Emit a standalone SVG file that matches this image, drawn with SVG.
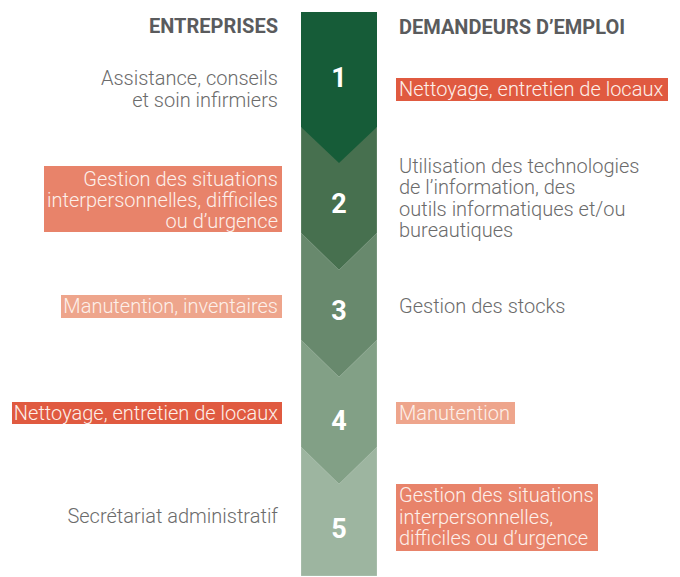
<svg xmlns="http://www.w3.org/2000/svg" width="680" height="577" viewBox="0 0 680 577">
<style>
.hd{font-family:Roboto,"Liberation Sans",sans-serif;font-weight:700;font-size:20px;fill:#5a5b5d}
.t{font-family:Roboto,"Liberation Sans",sans-serif;font-weight:300;font-size:20px;fill:#6b6b6b}
.w{font-family:Roboto,"Liberation Sans",sans-serif;font-weight:300;font-size:20px;fill:#fdf0ea}
.n{font-family:Roboto,"Liberation Sans",sans-serif;font-weight:700;font-size:27px;fill:#ffffff;text-anchor:middle}
.r{text-anchor:end}
.seg{stroke:#ffffff;stroke-opacity:0.25;stroke-width:0.8}
</style>
<rect width="680" height="577" fill="#ffffff"/>
<g id="headers">
<text class="hd r" x="278" y="33">ENTREPRISES</text>
<text class="hd" x="399" y="34">DEMANDEURS D’EMPLOI</text>
</g>
<g id="column">
<polygon class="seg" fill="#9db5a0" points="301,447 377,447 377,576 301,576"/>
<polygon class="seg" fill="#82a086" points="301,340 377,340 377,447 339,484 301,447"/>
<polygon class="seg" fill="#68896d" points="301,233 377,233 377,340 339,377 301,340"/>
<polygon class="seg" fill="#47704f" points="301,127 377,127 377,233 339,270 301,233"/>
<polygon fill="#165c38" points="301,12 377,12 377,127 339,163 301,127"/>
</g>
<g id="step1">
<text class="n" x="339" y="87">1</text>
<text class="t r" x="278" y="85">Assistance, conseils</text>
<text class="t r" x="278" y="107">et soin infirmiers</text>
<rect x="396" y="78" width="272" height="23" fill="#e05a40"/>
<text class="w" x="399" y="96">Nettoyage, entretien de locaux</text>
</g>
<g id="step2">
<text class="n" x="339" y="213">2</text>
<rect x="44" y="166" width="238" height="66" fill="#e8836a"/>
<text class="w r" x="278" y="186">Gestion des situations</text>
<text class="w r" x="278" y="207">interpersonnelles, difficiles</text>
<text class="w r" x="278" y="228">ou d’urgence</text>
<text class="t" x="399" y="173">Utilisation des technologies</text>
<text class="t" x="399" y="194">de l’information, des</text>
<text class="t" x="399" y="216">outils informatiques et/ou</text>
<text class="t" x="399" y="237">bureautiques</text>
</g>
<g id="step3">
<text class="n" x="339" y="320">3</text>
<rect x="61" y="295" width="221" height="23" fill="#eea58c"/>
<text class="w r" x="278" y="313">Manutention, inventaires</text>
<text class="t" x="399" y="313">Gestion des stocks</text>
</g>
<g id="step4">
<text class="n" x="339" y="430">4</text>
<rect x="12" y="402" width="270" height="22" fill="#e05a40"/>
<text class="w r" x="278" y="420">Nettoyage, entretien de locaux</text>
<rect x="396" y="402" width="119" height="22" fill="#eea58c"/>
<text class="w" x="399" y="420">Manutention</text>
</g>
<g id="step5">
<text class="n" x="339" y="538">5</text>
<text class="t r" x="278" y="523">Secrétariat administratif</text>
<rect x="396" y="484" width="202" height="67" fill="#e8836a"/>
<text class="w" x="399" y="502">Gestion des situations</text>
<text class="w" x="399" y="524">interpersonnelles,</text>
<text class="w" x="399" y="545">difficiles ou d’urgence</text>
</g>
</svg>
